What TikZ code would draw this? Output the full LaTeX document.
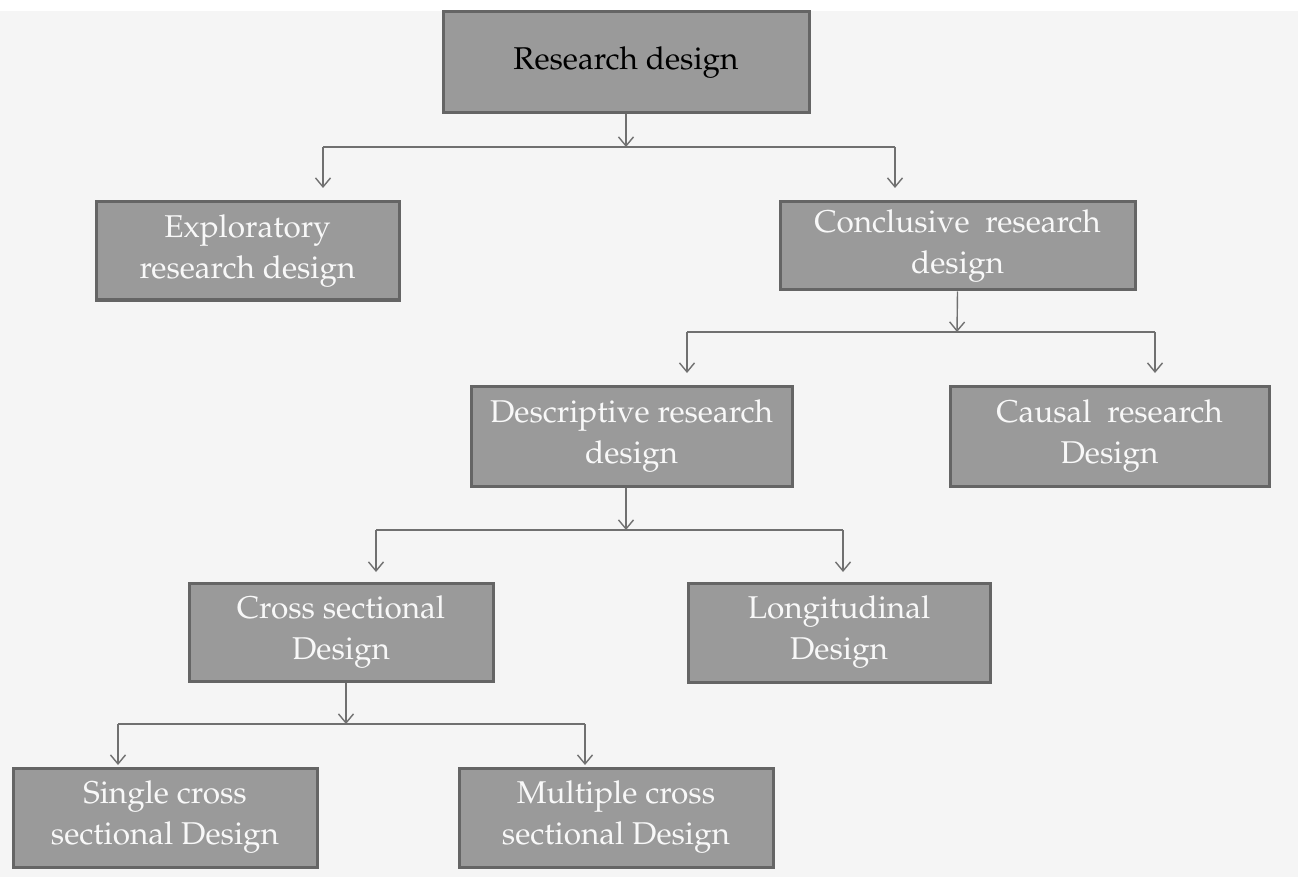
\documentclass[tikz,border=0pt]{standalone}
\usepackage[T1]{fontenc}
\renewcommand{\rmdefault}{ppl}
\usetikzlibrary{arrows.meta}
\definecolor{boxfill}{HTML}{9A9A9A}
\definecolor{boxline}{HTML}{656565}
\definecolor{conn}{HTML}{707070}
\definecolor{bg}{HTML}{F5F5F5}
\definecolor{txt}{HTML}{F8F8F8}
\tikzset{
  box/.style={draw=boxline, line width=3pt, fill=boxfill, text=txt, align=center,
    font=\fontsize{31.5}{41}\selectfont, inner sep=0pt},
  conline/.style={draw=conn, line width=1.4pt},
  arr/.style={conline, -{Straight Barb[length=9pt,width=15pt,line width=1.4pt]}}
}
\begin{document}
\begin{tikzpicture}[x=1pt,y=-1pt]
\useasboundingbox (0,0) rectangle (1298,877);
\fill[white] (0,0) rectangle (1298,877);
\fill[bg] (0,11) rectangle (1298,877);
% boxes
\node[box, text=black, font=\fontsize{31.5}{41}\selectfont, minimum width=366pt, minimum height=101pt] (top) at (626,62.5) {Research design};
\node[box, minimum width=303pt, minimum height=98pt] (expl) at (247.5,251) {Exploratory\\research design};
\node[box, minimum width=355pt, minimum height=88pt] (concl) at (957.5,246) {Conclusive\ \ research\\design};
\node[box, minimum width=321pt, minimum height=100pt] (desc) at (631.5,436) {Descriptive research\\design};
\node[box, minimum width=319pt, minimum height=100pt] (caus) at (1109.5,436) {Causal\ \ research\\Design};
\node[box, minimum width=304pt, minimum height=98pt] (cross) at (341,632) {Cross sectional\\Design};
\node[box, minimum width=302pt, minimum height=99pt] (longi) at (839,632.5) {Longitudinal\\Design};
\node[box, minimum width=304pt, minimum height=99pt] (single) at (165,817.5) {Single cross\\sectional Design};
\node[box, minimum width=314pt, minimum height=99pt] (multi) at (616,817.5) {Multiple cross\\sectional Design};
% junction coordinates
\coordinate (j1) at (626,147);
\coordinate (j1l) at (323,147);
\coordinate (j1r) at (895,147);
\coordinate (t1l) at (323,188);
\coordinate (t1r) at (895,188);
\coordinate (j2) at (957,332);
\coordinate (j2l) at (687,332);
\coordinate (j2r) at (1155,332);
\coordinate (t2l) at (687,373);
\coordinate (t2r) at (1155,373);
\coordinate (j3) at (626,530);
\coordinate (j3l) at (376,530);
\coordinate (j3r) at (843,530);
\coordinate (t3l) at (376,572);
\coordinate (t3r) at (843,572);
\coordinate (j4) at (346,724);
\coordinate (j4l) at (118,724);
\coordinate (j4r) at (585,724);
\coordinate (t4l) at (118,765);
\coordinate (t4r) at (585,765);
% connectors
\draw[arr] (top.south) -- (j1);
\draw[conline] (j1l) -- (j1r);
\draw[arr] (j1l) -- (t1l);
\draw[arr] (j1r) -- (t1r);
\draw[arr] (concl.south) -- (j2);
\draw[conline] (j2l) -- (j2r);
\draw[arr] (j2l) -- (t2l);
\draw[arr] (j2r) -- (t2r);
\draw[arr] ([xshift=-5.5pt]desc.south) -- (j3);
\draw[conline] (j3l) -- (j3r);
\draw[arr] (j3l) -- (t3l);
\draw[arr] (j3r) -- (t3r);
\draw[arr] ([xshift=5pt]cross.south) -- (j4);
\draw[conline] (j4l) -- (j4r);
\draw[arr] (j4l) -- (t4l);
\draw[arr] (j4r) -- (t4r);
\end{tikzpicture}
\end{document}
